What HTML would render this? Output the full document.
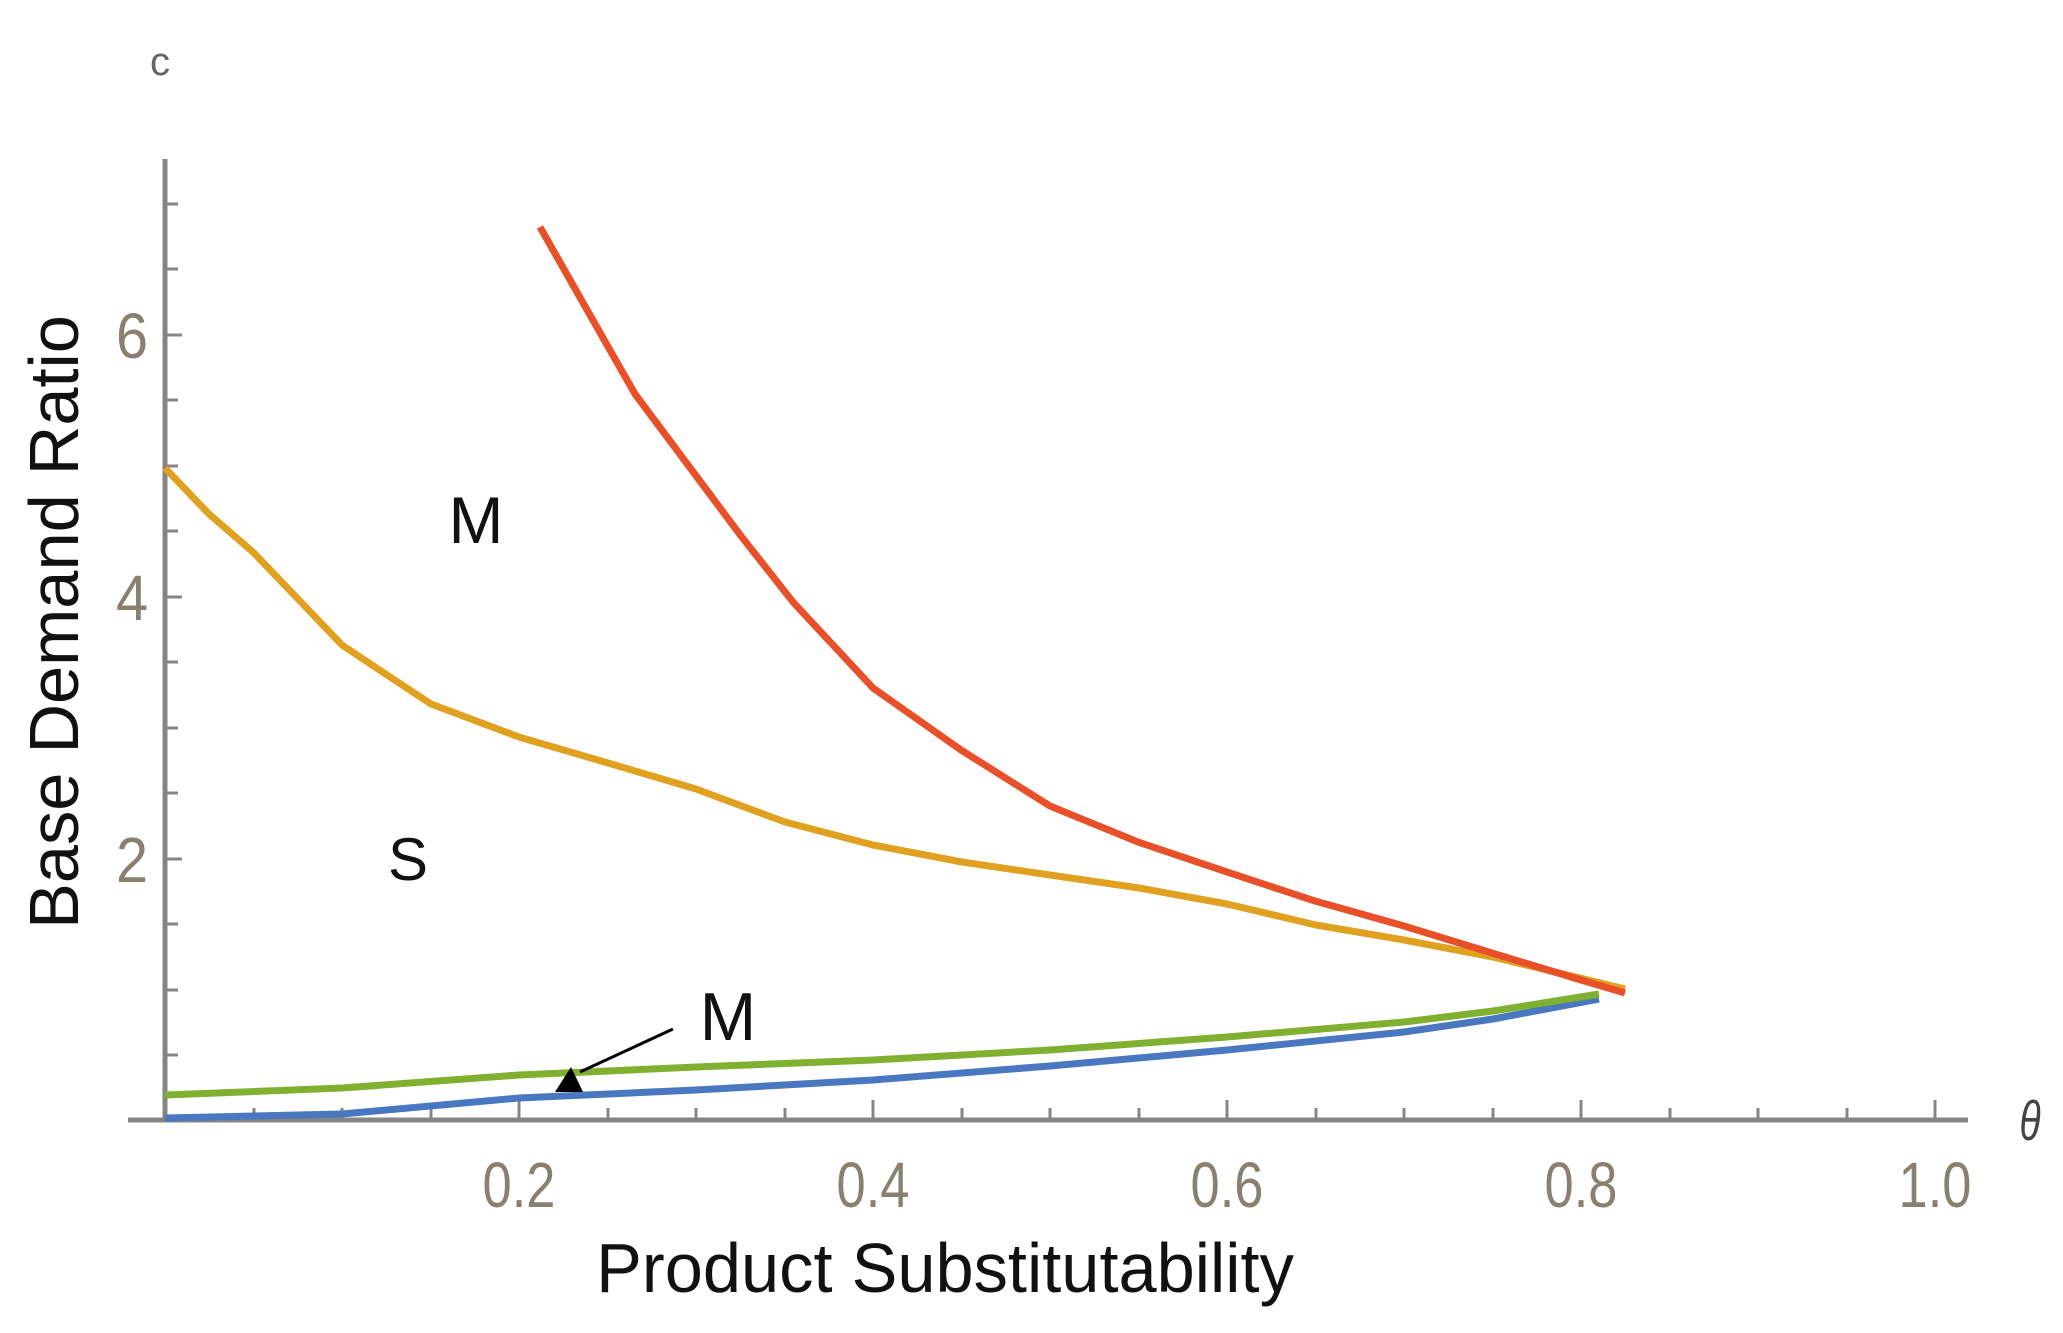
<!DOCTYPE html>
<html><head><meta charset="utf-8"><style>html,body{margin:0;padding:0;background:#fff}svg{display:block}</style></head>
<body>
<svg width="2063" height="1333" viewBox="0 0 2063 1333" xmlns="http://www.w3.org/2000/svg" font-family="Liberation Sans, sans-serif">
<rect width="2063" height="1333" fill="#fff"/>
<line x1="165" y1="159" x2="165" y2="1121" stroke="#858585" stroke-width="5"/>
<line x1="128" y1="1120" x2="1968" y2="1120" stroke="#858585" stroke-width="5"/>
<g stroke="#858585" stroke-width="3">
<line x1="165" y1="1055" x2="178" y2="1055"/><line x1="165" y1="990" x2="178" y2="990"/><line x1="165" y1="924" x2="178" y2="924"/><line x1="165" y1="859" x2="182" y2="859"/>
<line x1="165" y1="793" x2="178" y2="793"/><line x1="165" y1="728" x2="178" y2="728"/><line x1="165" y1="662" x2="178" y2="662"/><line x1="165" y1="597" x2="182" y2="597"/>
<line x1="165" y1="531" x2="178" y2="531"/><line x1="165" y1="466" x2="178" y2="466"/><line x1="165" y1="400" x2="178" y2="400"/><line x1="165" y1="335" x2="182" y2="335"/>
<line x1="165" y1="269" x2="178" y2="269"/><line x1="165" y1="204" x2="178" y2="204"/>
</g>
<g stroke="#858585" stroke-width="3">
<line x1="254" y1="1120" x2="254" y2="1108"/><line x1="342" y1="1120" x2="342" y2="1108"/><line x1="431" y1="1120" x2="431" y2="1108"/><line x1="519" y1="1120" x2="519" y2="1100"/>
<line x1="608" y1="1120" x2="608" y2="1108"/><line x1="696" y1="1120" x2="696" y2="1108"/><line x1="785" y1="1120" x2="785" y2="1108"/><line x1="873" y1="1120" x2="873" y2="1100"/>
<line x1="962" y1="1120" x2="962" y2="1108"/><line x1="1050" y1="1120" x2="1050" y2="1108"/><line x1="1139" y1="1120" x2="1139" y2="1108"/><line x1="1227" y1="1120" x2="1227" y2="1100"/>
<line x1="1316" y1="1120" x2="1316" y2="1108"/><line x1="1404" y1="1120" x2="1404" y2="1108"/><line x1="1493" y1="1120" x2="1493" y2="1108"/><line x1="1581" y1="1120" x2="1581" y2="1100"/>
<line x1="1670" y1="1120" x2="1670" y2="1108"/><line x1="1758" y1="1120" x2="1758" y2="1108"/><line x1="1847" y1="1120" x2="1847" y2="1108"/><line x1="1935" y1="1120" x2="1935" y2="1100"/>
</g>
<g fill="#8a8070" font-size="64" text-anchor="middle">
<text transform="translate(519,1207) scale(0.82,1)">0.2</text>
<text transform="translate(873,1207) scale(0.82,1)">0.4</text>
<text transform="translate(1227,1207) scale(0.82,1)">0.6</text>
<text transform="translate(1581,1207) scale(0.82,1)">0.8</text>
<text transform="translate(1935,1207) scale(0.82,1)">1.0</text>
<text transform="translate(132,358) scale(0.9,1)">6</text>
<text transform="translate(132,620) scale(0.9,1)">4</text>
<text transform="translate(132,882) scale(0.9,1)">2</text>
</g>
<text transform="translate(945,1292) scale(0.98,1)" font-size="70" text-anchor="middle" fill="#111">Product Substitutability</text>
<text transform="translate(78,622) rotate(-90) scale(0.98,1)" font-size="70" text-anchor="middle" fill="#111">Base Demand Ratio</text>
<text transform="translate(2030,1140) scale(0.7,1)" font-size="56" text-anchor="middle" fill="#444" font-style="italic">θ</text>
<text x="160" y="75" font-size="40" text-anchor="middle" fill="#666">c</text>
<g fill="none" stroke-width="7" stroke-linejoin="round">
<polyline stroke="#4a78c0" points="165,1118 342,1114 519,1098 696,1090 873,1080 1050,1066 1227,1050 1404,1032 1493,1019 1599,999"/>
<polyline stroke="#80b030" points="165,1095 342,1088 519,1075 696,1067 873,1060 1050,1050 1227,1037 1404,1022 1493,1011 1599,994"/>
<polyline stroke="#e0a020" points="165,468 209,514 254,553 298,599 342,645 387,675 431,704 519,737 608,763 696,789 785,822 873,845 962,862 1050,875 1139,888 1227,904 1316,925 1404,940 1493,957 1625,989"/>
<polyline stroke="#e8502a" points="540,227 582,301 635,394 688,465 741,536 793,602 873,688 961,750 1050,806 1138,842 1227,872 1315,901 1404,926 1492,953 1581,980 1625,993"/>
</g>
<text x="476" y="543" font-size="66" text-anchor="middle" fill="#111">M</text>
<text x="408" y="880" font-size="60" text-anchor="middle" fill="#111">S</text>
<text x="728" y="1040" font-size="68" text-anchor="middle" fill="#111">M</text>
<line x1="673" y1="1029" x2="580" y2="1072" stroke="#000" stroke-width="3"/>
<polygon points="571,1067 555,1092 583,1092" fill="#000"/>
</svg>
</body></html>
